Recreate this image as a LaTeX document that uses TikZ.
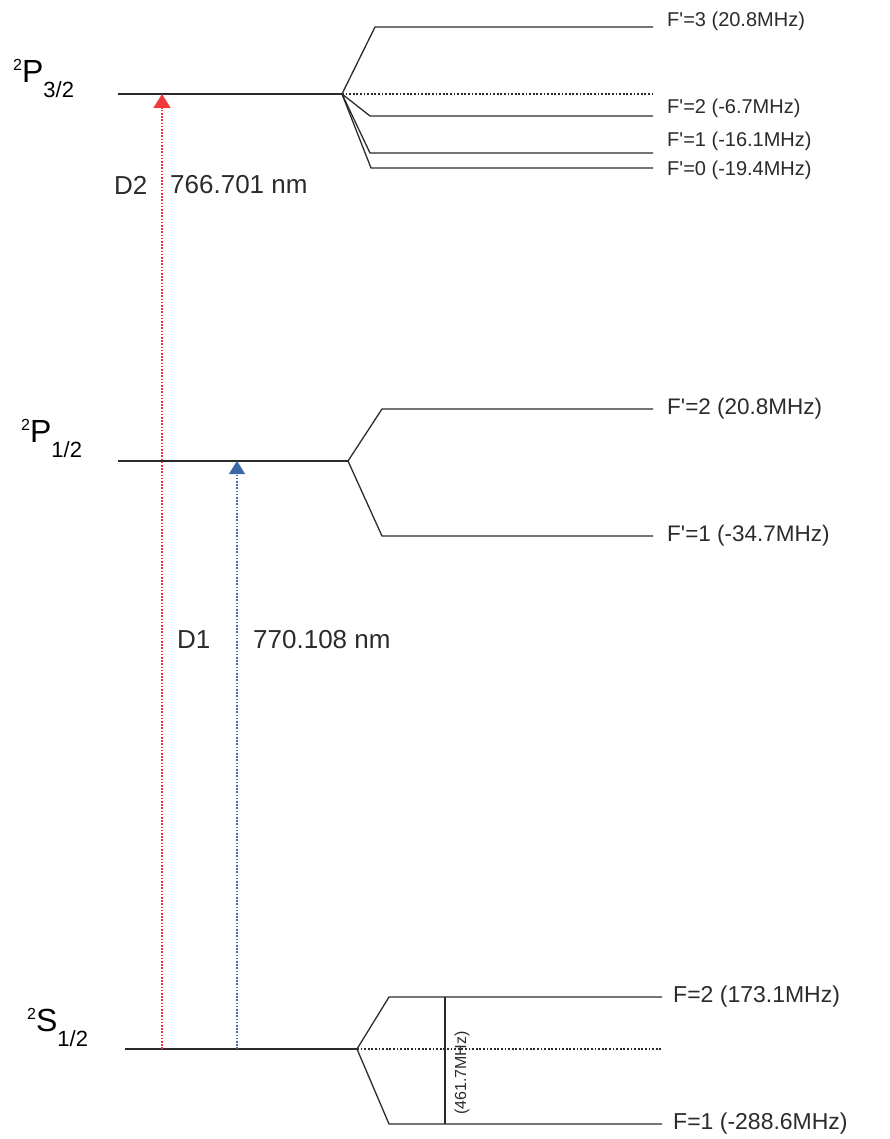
\documentclass[tikz,border=0pt]{standalone}
\usepackage{fontspec}
\setmainfont{Liberation Sans}[Ligatures=TeXOff]
\usetikzlibrary{arrows.meta,positioning}
\definecolor{DOneBlue}{HTML}{3A67A8}
\definecolor{DTwoRed} {HTML}{F23A3A}
\definecolor{LevelGray}{HTML}{2B2B2B}
\newcommand{\termSym}[3]{%
  \raisebox{12pt}{\fontsize{16}{16}\selectfont#1}%
  {\fontsize{32}{32}\selectfont#2}%
  \raisebox{-15pt}{\fontsize{22}{22}\selectfont#3}}

\begin{document}
\begin{tikzpicture}[x=1pt,y=-1pt,
  level/.style={LevelGray,line width=1.3pt},
  centre/.style={LevelGray,line width=1.2pt,dash pattern=on 1.8pt off 1.8pt},
  trans/.style={line width=1.5pt,dash pattern=on 1.6pt off 1.6pt},
  term/.style={anchor=base west,inner sep=0pt,text=black},
  hfs/.style={anchor=west,inner sep=0pt,text=LevelGray},
  wave/.style={anchor=west,inner sep=0pt,text=LevelGray,
    font=\fontsize{26}{26}\selectfont}]
  \useasboundingbox (0,0) rectangle (889,1139);
  % fine structure levels
  \coordinate (P3a) at (118,94);  \coordinate (P3s) at (342,94);
  \coordinate (P1a) at (118,461); \coordinate (P1s) at (348,461);
  \coordinate (S1a) at (125,1049);\coordinate (S1s) at (357,1049);
  \draw[level](P3a)--(P3s);
  \draw[level](P1a)--(P1s);
  \draw[level](S1a)--(S1s);
  \node[term](P3l) at (13,83)   {\termSym{2}{P}{3/2}};
  \node[term](P1l) at (21,442)  {\termSym{2}{P}{1/2}};
  \node[term](S1l) at (27,1031) {\termSym{2}{S}{1/2}};
  % hyperfine levels of 2P3/2
  \draw[centre](P3s)--(653,94);
  \foreach \nm/\kx/\ky/\ty/\txt in {
      F3/375/27/21/{F'=3 (20.8MHz)},
      F2/370/116/108/{F'=2 (-6.7MHz)},
      F1/370/153/141/{F'=1 (-16.1MHz)},
      F0/371/168/170/{F'=0 (-19.4MHz)}}{
    \coordinate (P3\nm k) at (\kx,\ky);
    \coordinate (P3\nm e) at (653,\ky);
    \draw[level](P3s)--(P3\nm k)--(P3\nm e);
    \node[hfs,font=\fontsize{20}{20}\selectfont](P3\nm l) at (667,\ty) {\txt};
  }
  % hyperfine levels of 2P1/2
  \foreach \nm/\ky/\ty/\txt in {
      F2/409/409/{F'=2 (20.8MHz)},
      F1/536/536/{F'=1 (-34.7MHz)}}{
    \coordinate (P1\nm k) at (382,\ky);
    \coordinate (P1\nm e) at (653,\ky);
    \draw[level](P1s)--(P1\nm k)--(P1\nm e);
    \node[hfs,font=\fontsize{22.5}{22.5}\selectfont](P1\nm l) at (667,\ty) {\txt};
  }
  % hyperfine levels of 2S1/2
  \draw[centre](S1s)--(662,1049);
  \foreach \nm/\ky/\txt in {
      F2/997/{F=2 (173.1MHz)},
      F1/1124/{F=1 (-288.6MHz)}}{
    \coordinate (S1\nm k) at (389,\ky);
    \coordinate (S1\nm e) at (662,\ky);
    \draw[level](S1s)--(S1\nm k)--(S1\nm e);
    \node[hfs,font=\fontsize{23}{23}\selectfont](S1\nm l) at (673,\ky) {\txt};
  }
  \coordinate (GapT) at (445,997);
  \coordinate (GapB) at (445,1124);
  \draw[level](GapT)--(GapB);
  \node[inner sep=0pt,rotate=90,text=LevelGray,font=\fontsize{16}{16}\selectfont]
    (Gapl) at (462,1073) {(461.7MHz)};
  % D lines
  \coordinate (D2lo) at (162,1049); \coordinate (D2hi) at (162,94);
  \coordinate (D1lo) at (237,1049); \coordinate (D1hi) at (237,461);
  \draw[trans,DTwoRed,-{Triangle[width=17pt,length=14pt]}](D2lo)--(D2hi);
  \draw[trans,DOneBlue,line width=1.2pt,-{Triangle[width=16pt,length=13pt]}](D1lo)--(D1hi);
  \node[wave](D2l) at (114,185) {D2};
  \node[wave](D2w) at (170,185) {766.701 nm};
  \node[wave](D1l) at (177,640) {D1};
  \node[wave](D1w) at (253,640) {770.108 nm};
\end{tikzpicture}
\end{document}
